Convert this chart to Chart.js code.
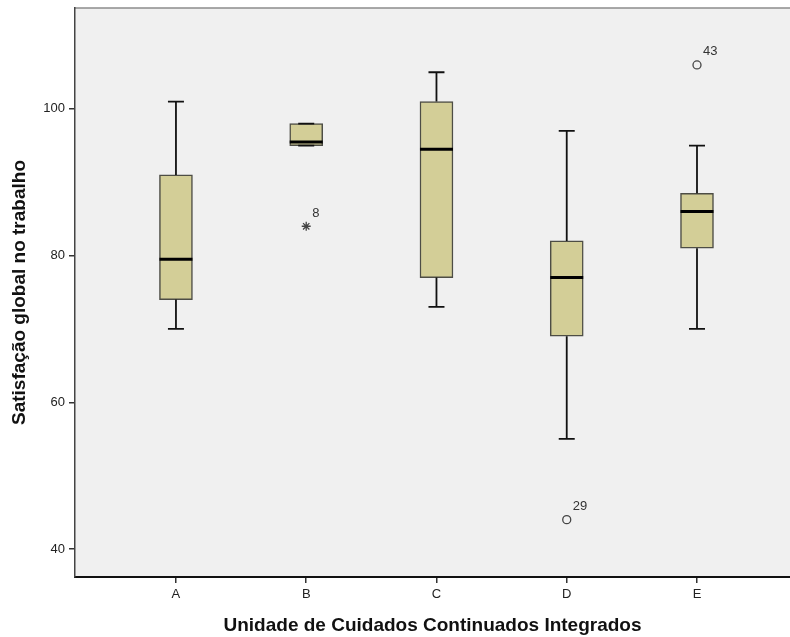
<!DOCTYPE html>
<html>
<head>
<meta charset="utf-8">
<script src="https://cdn.jsdelivr.net/npm/chart.js@4/dist/chart.umd.min.js"></script>
<style>
  html, body { margin: 0; padding: 0; background: #fff; }
  #wrap { width: 790px; height: 637px; }
</style>
</head>
<body>
<div id="wrap"><canvas id="boxChart" width="790" height="637"></canvas></div>
<script>
// ==========================================
// Data
// ==========================================
const categories = ['A', 'B', 'C', 'D', 'E'];
const whiskerLow = [70, 95, 73, 55, 70];
const quartile1 = [74, 95, 77, 69, 81];
const medians = [79.5, 95.5, 94.5, 77, 86];
const quartile3 = [91, 98, 101, 82, 88.5];
const whiskerHigh = [101, 98, 105, 97, 95];

// outliers (group index, value, case number, extreme?)
const outlierGroup = [1, 3, 4];
const outlierValue = [84, 44, 106];
const outlierCase = ['8', '29', '43'];
const outlierExtreme = [true, false, false];

const yTicks = [40, 60, 80, 100];

// ==========================================
// Styles
// ==========================================
const FONT = "'Liberation Sans', Arial, sans-serif";
const BOX_FILL = '#d3ce97';
const BOX_EDGE = '#4d4d45';
const BOX_WIDTH = 33;
const CAP_HALF = 8;

// ==========================================
// Plugins
// ==========================================
const backgroundPlugin = {
  id: 'plotBackground',
  beforeDraw(chart) {
    const { ctx, chartArea: a } = chart;
    ctx.save();
    ctx.fillStyle = '#f0f0f0';
    ctx.fillRect(a.left, a.top, a.right - a.left, a.bottom - a.top);
    ctx.strokeStyle = '#8c8c8c';
    ctx.lineWidth = 1.5;
    ctx.beginPath();
    ctx.moveTo(a.left, a.top);
    ctx.lineTo(a.right, a.top);
    ctx.stroke();
    ctx.restore();
  }
};

const whiskerPlugin = {
  id: 'whiskers',
  afterDatasetsDraw(chart) {
    const { ctx, scales: { x, y } } = chart;
    ctx.save();
    categories.forEach((c, i) => {
      const px = x.getPixelForValue(i);
      ctx.strokeStyle = '#111';
      ctx.lineWidth = 1.8;
      ctx.beginPath();
      // upper whisker
      ctx.moveTo(px, y.getPixelForValue(quartile3[i]));
      ctx.lineTo(px, y.getPixelForValue(whiskerHigh[i]));
      ctx.moveTo(px - CAP_HALF, y.getPixelForValue(whiskerHigh[i]));
      ctx.lineTo(px + CAP_HALF, y.getPixelForValue(whiskerHigh[i]));
      // lower whisker
      ctx.moveTo(px, y.getPixelForValue(quartile1[i]));
      ctx.lineTo(px, y.getPixelForValue(whiskerLow[i]));
      ctx.moveTo(px - CAP_HALF, y.getPixelForValue(whiskerLow[i]));
      ctx.lineTo(px + CAP_HALF, y.getPixelForValue(whiskerLow[i]));
      ctx.stroke();

      // median
      ctx.strokeStyle = '#000';
      ctx.lineWidth = 3;
      ctx.beginPath();
      ctx.moveTo(px - BOX_WIDTH / 2, y.getPixelForValue(medians[i]));
      ctx.lineTo(px + BOX_WIDTH / 2, y.getPixelForValue(medians[i]));
      ctx.stroke();
    });

    // case labels next to outliers
    ctx.fillStyle = '#333';
    ctx.font = '13px ' + FONT;
    ctx.textAlign = 'left';
    ctx.textBaseline = 'middle';
    outlierGroup.forEach((g, k) => {
      const px = x.getPixelForValue(g);
      const py = y.getPixelForValue(outlierValue[k]);
      ctx.fillText(outlierCase[k], px + 6, py - 13);
    });
    ctx.restore();
  }
};

// ==========================================
// Chart
// ==========================================
const boxData = categories.map((c, i) => ({ x: i, y: [quartile1[i], quartile3[i]] }));
const outlierData = outlierGroup.map((g, k) => ({ x: g, y: outlierValue[k] }));

new Chart(document.getElementById('boxChart'), {
  type: 'bar',
  data: {
    datasets: [{
      type: 'bar',
      data: boxData,
      backgroundColor: BOX_FILL,
      borderColor: BOX_EDGE,
      borderWidth: 1.5,
      borderSkipped: false,
      barThickness: BOX_WIDTH,
      grouped: false
    }, {
      type: 'scatter',
      data: outlierData,
      pointStyle: outlierExtreme.map(e => e ? 'star' : 'circle'),
      pointRadius: outlierExtreme.map(e => e ? 4.5 : 4),
      borderColor: '#444',
      borderWidth: 1.3,
      backgroundColor: 'rgba(0,0,0,0)'
    }]
  },
  options: {
    responsive: false,
    animation: false,
    devicePixelRatio: 1,
    layout: { autoPadding: false, padding: { top: 8, right: 0, left: 0, bottom: 0 } },
    plugins: {
      legend: { display: false },
      tooltip: { enabled: false }
    },
    scales: {
      x: {
        type: 'linear',
        offset: false,
        min: -0.775,
        max: 4.714,
        afterBuildTicks: s => { s.ticks = categories.map((c, i) => ({ value: i })); },
        afterFit: s => { s.height = 60; s.paddingLeft = 0; s.paddingRight = 0; },
        ticks: {
          callback: v => categories[v],
          color: '#222',
          font: { family: FONT, size: 13 },
          padding: 4,
          maxRotation: 0
        },
        grid: { offset: false, drawOnChartArea: false, drawTicks: true, tickLength: 6, tickColor: '#333', lineWidth: 1.5 },
        border: { display: true, color: '#111', width: 2 },
        title: {
          display: true,
          text: 'Unidade de Cuidados Continuados Integrados',
          color: '#111',
          font: { family: FONT, size: 19, weight: 'bold' },
          padding: { top: 0, bottom: 0 }
        }
      },
      y: {
        min: 36.18,
        max: 113.76,
        afterBuildTicks: s => { s.ticks = yTicks.map(v => ({ value: v })); },
        afterFit: s => { s.width = 75; s.paddingTop = 0; s.paddingBottom = 0; },
        ticks: {
          color: '#222',
          font: { family: FONT, size: 13 },
          padding: 4
        },
        grid: { drawOnChartArea: false, drawTicks: true, tickLength: 6, tickColor: '#333', lineWidth: 1.5 },
        border: { display: true, color: '#444', width: 1.5 },
        title: {
          display: true,
          text: 'Satisfação global no trabalho',
          color: '#111',
          font: { family: FONT, size: 19, weight: 'bold' },
          padding: { top: 8, bottom: 0 }
        }
      }
    }
  },
  plugins: [backgroundPlugin, whiskerPlugin]
});
</script>
</body>
</html>
